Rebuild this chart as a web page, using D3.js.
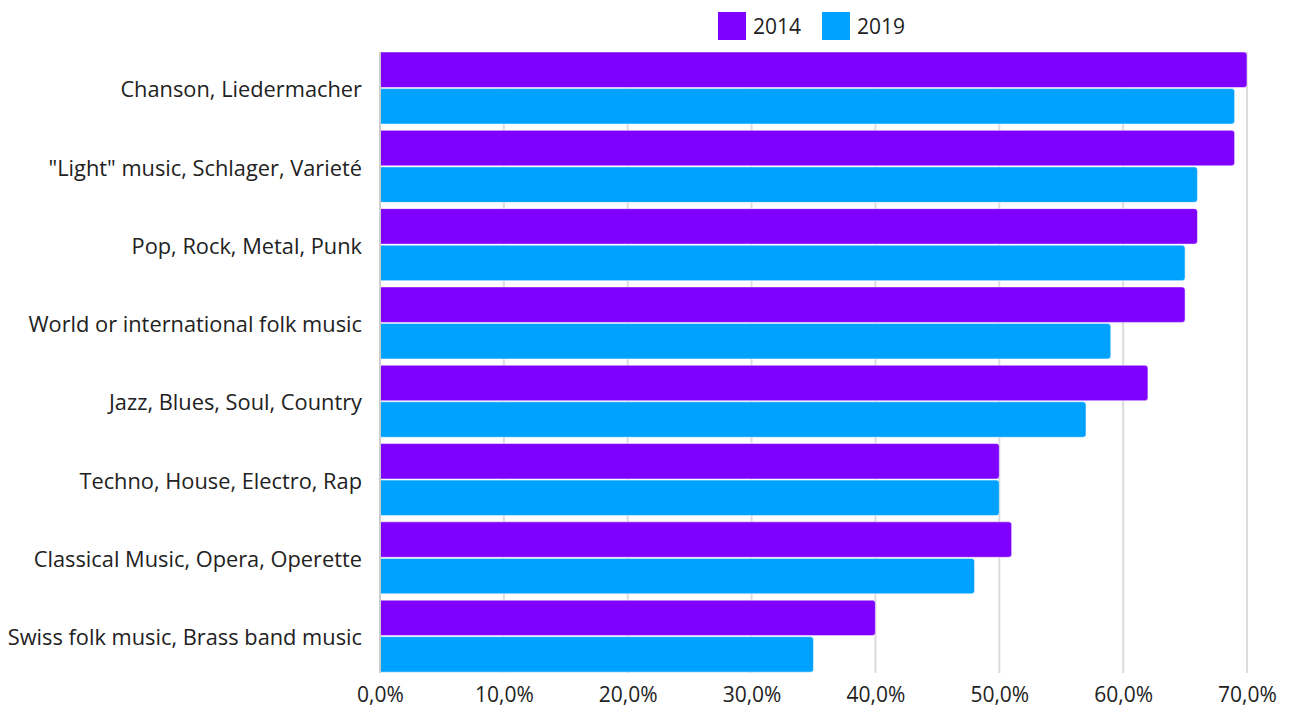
<!DOCTYPE html>
<html><head><meta charset="utf-8">
<script src="https://cdn.jsdelivr.net/npm/d3@7"></script>
<style>body{margin:0;background:#fff}svg{display:block}text{font-family:"Open Sans",sans-serif}</style>
</head><body><svg id="c" width="1290" height="707"></svg>
<script>
const categories = ["Chanson, Liedermacher","\"Light\" music, Schlager, Varieté","Pop, Rock, Metal, Punk","World or international folk music","Jazz, Blues, Soul, Country","Techno, House, Electro, Rap","Classical Music, Opera, Operette","Swiss folk music, Brass band music"];
const series = ["2014","2019"];
const values2014 = [70,69,66,65,62,50,51,40];
const values2019 = [69,66,65,59,57,50,48,35];
const ticks = [0,10,20,30,40,50,60,70];
const colors = ["#8000ff","#00a2ff"];
const FONT = '"Open Sans",sans-serif';

const svg = d3.select("#c");
const m = {l:380, r:1247, t:52, b:673};
const x = d3.scaleLinear().domain([0,70]).range([m.l, m.r]);
const y = d3.scaleBand().domain(categories).range([48.9, 675.3]).paddingInner(0.08).paddingOuter(0.04);
const ys = d3.scaleBand().domain(series).range([0, y.bandwidth()]).paddingInner(0.03);

// gridlines
svg.append("g").selectAll("line").data(ticks.slice(1)).join("line")
  .attr("x1", d=>x(d)).attr("x2", d=>x(d)).attr("y1", m.t).attr("y2", m.b)
  .attr("stroke","#dcdcdc").attr("stroke-width",2);

const vals = [values2014, values2019];
series.forEach((s, si) => {
  svg.append("g").selectAll("path").data(categories).join("path")
    .attr("fill", colors[si])
    .attr("stroke","#ffffff").attr("stroke-opacity",0.5).attr("stroke-width",1)
    .attr("d", (c, i) => {
      const x0 = x(0), x1 = x(vals[si][i]), y0 = y(c) + ys(s), h = ys.bandwidth(), r = 3;
      return `M${x0},${y0}H${x1-r}Q${x1},${y0} ${x1},${y0+r}V${y0+h-r}Q${x1},${y0+h} ${x1-r},${y0+h}H${x0}Z`;
    });
});

// y axis line
svg.append("line").attr("x1",m.l).attr("x2",m.l).attr("y1",m.t).attr("y2",m.b)
  .attr("stroke","#cccccc").attr("stroke-width",2);

// x axis labels
const xAxis = d3.axisBottom(x).tickValues(ticks).tickSize(0).tickPadding(14)
  .tickFormat(d => d3.format(".1f")(d).replace(".", ",") + "%");
const gx = svg.append("g").attr("transform", `translate(0,${m.b})`).call(xAxis).attr("font-family", FONT);
gx.select(".domain").remove();
gx.selectAll("text").attr("font-size",21).attr("fill","#222");

// y axis labels
const yAxis = d3.axisLeft(y).tickSize(0).tickPadding(18);
const gy = svg.append("g").attr("transform", `translate(${m.l},0)`).call(yAxis).attr("font-family", FONT);
gy.select(".domain").remove();
gy.selectAll("text").attr("font-size",21.8).attr("fill","#222").attr("dy","0.42em");

// legend
const lg = svg.append("g");
const lx = [718, 822];
series.forEach((s, i) => {
  lg.append("rect").attr("x", lx[i]).attr("y", 12).attr("width", 28).attr("height", 28).attr("fill", colors[i]);
  lg.append("text").attr("x", lx[i] + 35).attr("y", 34).attr("font-size", 21).attr("fill","#222").text(s);
});
</script></body></html>
